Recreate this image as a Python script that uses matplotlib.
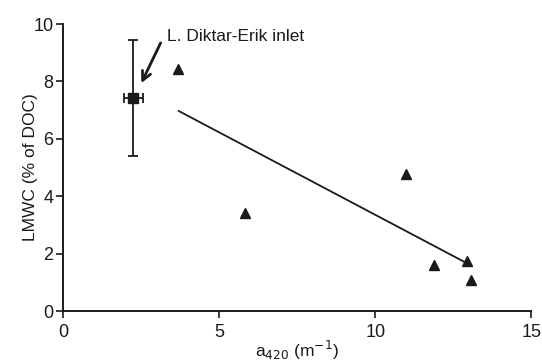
import numpy as np
import matplotlib.pyplot as plt

plt.rcParams['font.family'] = ['Liberation Sans', 'DejaVu Sans']

## lake samples (triangles)
a420 = [3.67, 5.84, 11.0, 11.9, 12.95, 13.08]
lmwc = [8.43, 3.40, 4.77, 1.60, 1.73, 1.08]

## inlet sample with error bars
inlet_x = [2.25]
inlet_y = [7.41]
inlet_xerr = [0.3]
inlet_yerr = [2.02]

## x range covered by the regression line
fit_range = [3.7, 12.95]

fig = plt.figure(figsize=(5.42, 3.61), dpi=100)
ax = fig.add_axes([0.1168, 0.1385, 0.8632, 0.795])

## least squares line through the triangles
slope, icpt = np.polyfit(a420, lmwc, 1)
fx = np.array(fit_range)
ax.plot(fx, slope * fx + icpt, color='#1a1a1a', linewidth=1.3)

ax.plot(a420, lmwc, linestyle='none', marker='^', markersize=7.5, color='#1a1a1a')
ax.errorbar(inlet_x, inlet_y, xerr=inlet_xerr, yerr=inlet_yerr, fmt='s',
            color='#1a1a1a', markersize=7, elinewidth=1.3, capsize=3.5, capthick=1.3)

## label + arrow pointing at the inlet point
ax.text(3.34, 9.58, 'L. Diktar-Erik inlet', fontsize=12.5, va='center', ha='left',
        color='#1a1a1a')
ax.annotate('', xy=(2.5, 7.94), xytext=(3.12, 9.34),
            arrowprops=dict(arrowstyle='->', color='#1a1a1a', lw=2.0,
                            shrinkA=0, shrinkB=0, mutation_scale=16))

ax.set_xlim(0, 15)
ax.set_ylim(0, 10)
ax.set_xticks([0, 5, 10, 15])
ax.set_yticks([0, 2, 4, 6, 8, 10])
ax.spines['top'].set_visible(False)
ax.spines['right'].set_visible(False)
for s in ['left', 'bottom']:
    ax.spines[s].set_linewidth(1.4)
    ax.spines[s].set_color('#1a1a1a')
ax.tick_params(direction='out', length=5, width=1.2, labelsize=13, colors='#1a1a1a', pad=2)
ax.tick_params(axis='x', pad=4)

ax.set_xlabel('a$_{420}$ (m$^{-1}$)', fontsize=12.5, labelpad=-1.5, color='#1a1a1a')
ax.set_ylabel('LMWC (% of DOC)', fontsize=12.5, labelpad=-3, color='#1a1a1a')

plt.savefig('out.png', dpi=100)
